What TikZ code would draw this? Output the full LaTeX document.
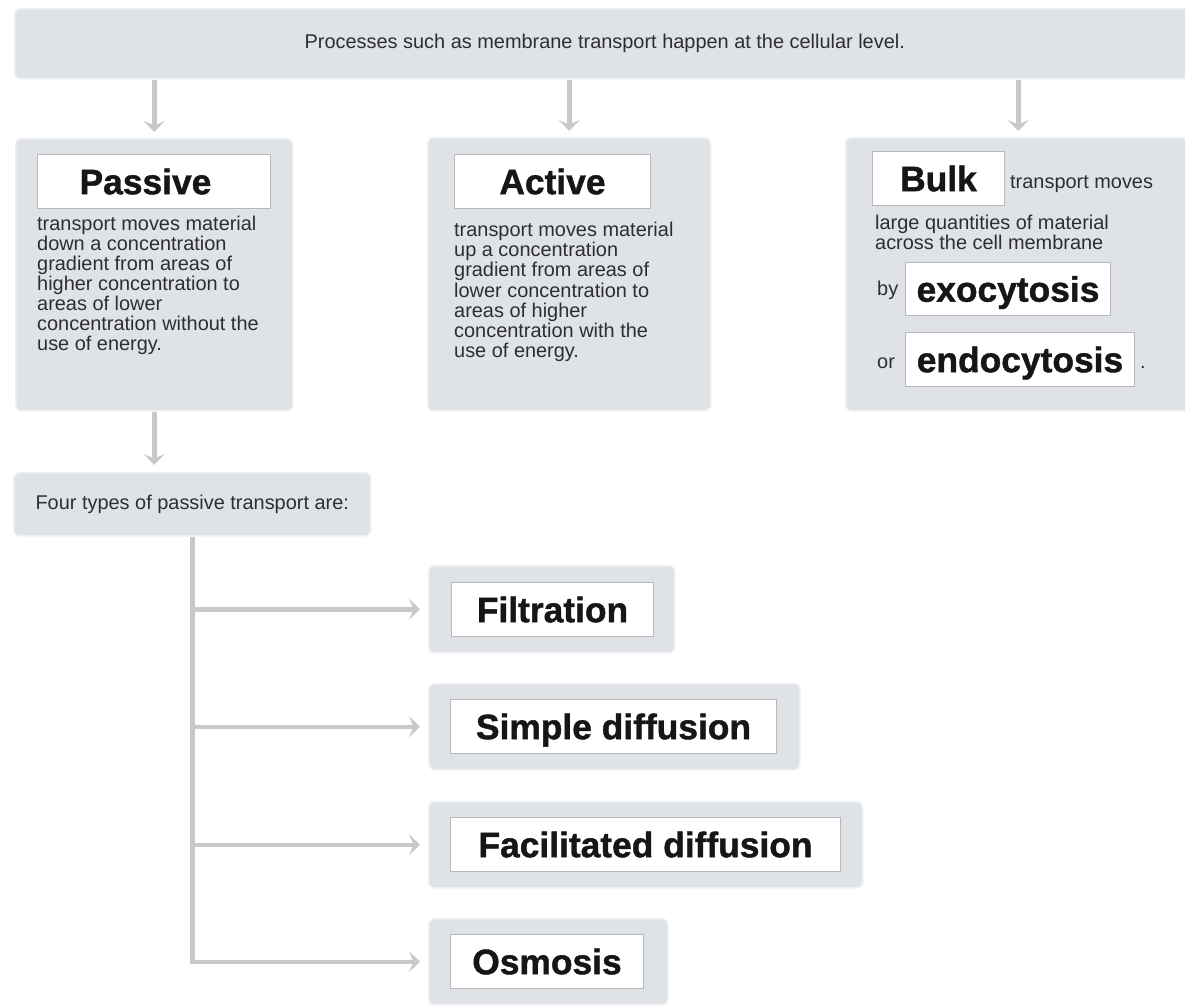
\documentclass[tikz,border=0pt]{standalone}
\usepackage{fontspec}
\setmainfont{Liberation Sans}
\newfontfamily\heavyfam{Liberation Sans Bold}[FakeBold=1.2]
\usetikzlibrary{arrows.meta,calc}
\definecolor{boxfill}{HTML}{DFE3E7}
\definecolor{boxedge}{HTML}{EEF0F2}
\definecolor{conncol}{HTML}{C8C8C8}
\definecolor{wedge}{HTML}{B8B8B8}
\definecolor{bodytext}{HTML}{2E2E2E}
\definecolor{titletext}{HTML}{161616}
\newcommand\bodyfont{\fontsize{20}{20.2}\selectfont}
\newcommand\titlefont{\heavyfam\fontsize{35.5}{38}\selectfont}
\tikzset{
 outerbox/.style={draw=boxedge, line width=1.5bp, fill=boxfill, rounded corners=6bp, inner sep=0pt, anchor=north west},
 whitebox/.style={draw=wedge, line width=1bp, fill=white, inner sep=0pt, text height=25.4bp, text depth=0pt, font=\titlefont, text=titletext, anchor=north west},
 bodytxt/.style={font=\bodyfont, text=bodytext, inner sep=0pt},
 conn/.style={draw=conncol, line width=4.5bp, -{Stealth[length=11bp,width=21bp,inset=4.5bp]}},
}
\begin{document}
\begin{tikzpicture}[x=1bp,y=-1bp]
\useasboundingbox (0,0) rectangle (1185,1006);
\clip (0,0) rectangle (1185,1006);
\fill[white] (0,0) rectangle (1185,1006);

% top banner
\node[outerbox, minimum width=1180bp, minimum height=70bp, font=\bodyfont, text=bodytext] (banner) at (14,8) {Processes such as membrane transport happen at the cellular level.};

% three main boxes
\node[outerbox, minimum width=277bp, minimum height=272bp] (passive) at (15,138) {};
\node[outerbox, minimum width=283bp, minimum height=273bp] (active) at (427,137) {};
\node[outerbox, minimum width=345bp, minimum height=273bp] (bulk) at (845,137) {};

% passive contents
\node[whitebox, minimum width=233bp, minimum height=54bp] (passT) at (37,154) {Passive\hspace*{17bp}};
\node[bodytxt, anchor=north west, align=left] (passD) at (37,215.5) {transport moves material\\down a concentration\\gradient from areas of\\higher concentration to\\areas of lower\\concentration without the\\use of energy.};

% active contents
\node[whitebox, minimum width=196bp, minimum height=54bp] (actT) at (454,154) {Active};
\node[bodytxt, anchor=north west, align=left] (actD) at (454,222) {transport moves material\\up a concentration\\gradient from areas of\\lower concentration to\\areas of higher\\concentration with the\\use of energy.};

% bulk contents
\node[whitebox, minimum width=132bp, minimum height=54bp] (bulkT) at (872,151) {Bulk};
\node[bodytxt, anchor=base west] (bulkA) at (1010,188) {transport moves};
\node[bodytxt, anchor=north west, align=left] (bulkB) at (875,214.5) {large quantities of material\\across the cell membrane};
\node[bodytxt, anchor=base west] (by) at (877,295) {by};
\node[whitebox, minimum width=205bp, minimum height=53bp] (exo) at (905,262) {exocytosis};
\node[bodytxt, anchor=base west] (or) at (877,368) {or};
\node[whitebox, minimum width=229bp, minimum height=54bp] (endo) at (905,332) {endocytosis};
\node[bodytxt, anchor=base west] (dot) at (1140,368) {.};

% four types
\node[outerbox, minimum width=357bp, minimum height=63bp, font=\bodyfont, text=bodytext] (four) at (13,472) {Four types of passive transport are:};

% types
\node[outerbox, minimum width=246bp, minimum height=87bp] (filtO) at (428,565) {};
\node[whitebox, minimum width=202bp, minimum height=54bp] (filt) at (451,582) {Filtration};
\node[outerbox, minimum width=371bp, minimum height=86bp] (simpO) at (428,683) {};
\node[whitebox, minimum width=326bp, minimum height=54bp] (simp) at (450,699) {Simple diffusion};
\node[outerbox, minimum width=434bp, minimum height=86bp] (facO) at (428,801) {};
\node[whitebox, minimum width=390bp, minimum height=54bp] (fac) at (450,817) {Facilitated diffusion};
\node[outerbox, minimum width=239bp, minimum height=86bp] (osmO) at (428,918) {};
\node[whitebox, minimum width=193bp, minimum height=54bp] (osm) at (450,934) {Osmosis};

% connectors
\draw[conn, shorten >=6bp] (banner.south -| passive.north) -- (passive.north);
\draw[conn, shorten >=6bp] (banner.south -| active.north) -- (active.north);
\draw[conn, shorten >=6bp] (banner.south -| bulk.north) -- (bulk.north);
\draw[conn, shorten >=7bp] (passive.south) -- (passive.south |- four.north);
\draw[conn, shorten >=8bp] (four.south) |- (osmO.west);
\draw[conn, shorten >=8bp] (four.south |- filtO.west) -- (filtO.west);
\draw[conn, shorten >=8bp] (four.south |- simpO.west) -- (simpO.west);
\draw[conn, shorten >=8bp] (four.south |- facO.west) -- (facO.west);
\end{tikzpicture}
\end{document}
